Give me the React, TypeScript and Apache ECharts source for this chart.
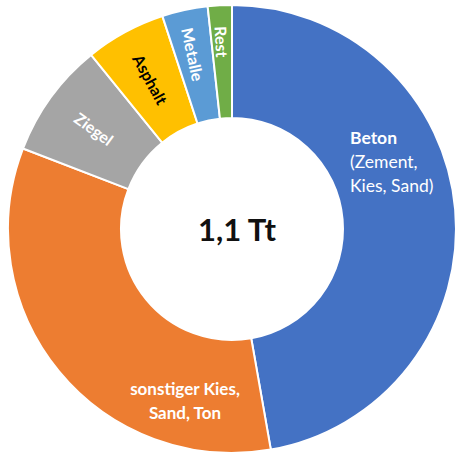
import React, { useEffect, useRef } from "react";
import * as echarts from "echarts";

const categories = ["Beton", "sonstiger Kies, Sand, Ton", "Ziegel", "Asphalt", "Metalle", "Rest"];
const values = [545, 388, 96, 67, 38, 20]; // Gt
const colors = ["#4472C4", "#ED7D31", "#A5A5A5", "#FFC000", "#5B9BD5", "#70AD47"];
const totalLabel = "1,1 Tt";

const FONT = "Lato, 'Open Sans', sans-serif";

export default function App() {
  const ref = useRef<HTMLDivElement>(null);
  useEffect(() => {
    if (!ref.current) return;
    const chart = echarts.init(ref.current, undefined, { renderer: "svg" });
    const data = categories.map((name, i) => {
      const item: any = { name, value: values[i], itemStyle: { color: colors[i] } };
      if (i === 0) {
        item.label = {
          formatter: "{b|Beton}\n(Zement,\nKies, Sand)",
          rotate: 0,
          align: "left",
          fontWeight: "normal",
          fontSize: 17.5,
          lineHeight: 24,
          rich: { b: { fontWeight: "bold", fontSize: 17.5, fontFamily: FONT, color: "#fff", lineHeight: 24 } },
        };
      } else if (i === 1) {
        item.label = {
          formatter: "sonstiger Kies,\nSand, Ton",
          rotate: 0,
          fontSize: 17,
          lineHeight: 24,
        };
      } else if (i === 3) {
        item.label = { color: "#000" };
      }
      return item;
    });
    chart.setOption({
      animation: false,
      series: [
        {
          type: "pie",
          center: [232, 229],
          radius: [111, 224],
          startAngle: 90,
          clockwise: true,
          avoidLabelOverlap: false,
          itemStyle: { borderColor: "#fff", borderWidth: 2 },
          label: {
            show: true,
            position: "inside",
            rotate: "radial",
            color: "#fff",
            fontFamily: FONT,
            fontSize: 16,
            fontWeight: "bold",
            formatter: "{b}",
          },
          labelLine: { show: false },
          labelLayout: (p: any) => {
            if (p.dataIndex === 0) return { x: 350, y: 161, align: "left", verticalAlign: "middle" };
            if (p.dataIndex === 1) return { x: 185, y: 400, align: "center", verticalAlign: "middle" };
            if (p.dataIndex === 4) return { dx: -8.5, dy: 1.3 };
            if (p.dataIndex === 5) return { dx: -17, dy: 0 };
            return {};
          },
          data,
        },
      ],
      graphic: [
        {
          type: "text",
          x: 237,
          y: 229,
          style: {
            text: totalLabel,
            font: `bold 31px ${FONT}`,
            fill: "#111",
            align: "center",
            verticalAlign: "middle",
          },
        },
      ],
    });
    return () => chart.dispose();
  }, []);
  return (
    <div
      ref={ref}
      style={{ position: "fixed", left: 0, top: 0, width: 462, height: 457, background: "#fff" }}
    />
  );
}
